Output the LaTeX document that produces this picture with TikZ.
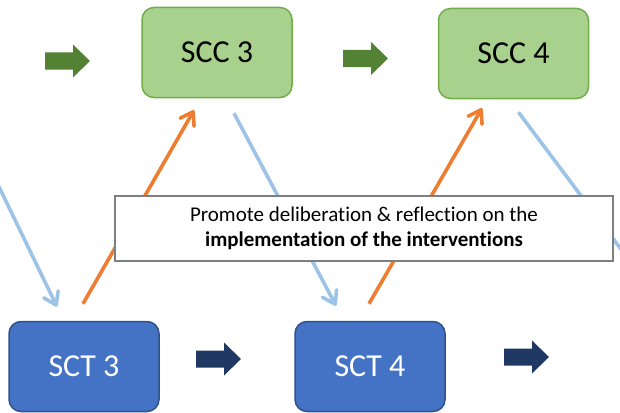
\documentclass[tikz,border=0pt]{standalone}
\usepackage{fontspec}
\setmainfont{Carlito}[Ligatures=NoCommon]
\usetikzlibrary{arrows.meta,calc}

\definecolor{sccfill}{HTML}{A9D18E}
\definecolor{sccline}{HTML}{70AD47}
\definecolor{sctfill}{HTML}{4472C4}
\definecolor{sctline}{HTML}{2F528F}
\definecolor{fwdgreen}{HTML}{548235}
\definecolor{fwdnavy}{HTML}{203864}
\definecolor{feedorange}{HTML}{ED7D31}
\definecolor{feedblue}{HTML}{9DC3E6}
\definecolor{noteline}{HTML}{7F7F7F}

\begin{document}
\begin{tikzpicture}[x=1pt,y=-1pt,
  cyclebox/.style={line width=1.5pt, rounded corners=12pt, minimum width=150pt,
    minimum height=90pt, inner sep=0pt, font=\fontsize{32}{38}\selectfont},
  sccbox/.style={cyclebox, draw=sccline, fill=sccfill, text=black},
  sctbox/.style={cyclebox, draw=sctline, fill=sctfill, text=white},
  note/.style={draw=noteline, fill=white, line width=1.5pt, minimum width=498pt,
    minimum height=65pt, inner sep=0pt, align=center, font=\fontsize{21}{25}\selectfont},
  linktip/.style={-{Straight Barb[length=12pt,width=16pt,line cap=round,line join=round]}},
  upflow/.style={draw=feedorange, line width=3.6pt, linktip},
  downflow/.style={draw=feedblue, line width=3.6pt, linktip},
  blockarrow/.pic={\fill (0,-8.5) -- (28,-8.5) -- (28,-16.5) -- (45,0) -- (28,16.5)
    -- (28,8.5) -- (0,8.5) -- cycle;}
]
\useasboundingbox (0,0) rectangle (620,412);
\clip (0,0) rectangle (620,412);

% forward steps between cycles
\pic[fwdgreen] at (45,61) {blockarrow};
\pic[fwdgreen] at (343,58.5) {blockarrow};
\pic[fwdnavy] at (196,359) {blockarrow};
\pic[fwdnavy] at (504,357) {blockarrow};

% cycle boxes
\node[sccbox] (scc3) at (217,52.5) {SCC 3};
\node[sccbox] (scc4) at (513.5,53.5) {SCC 4};
\node[sctbox] (sct3) at (84,366.5) {SCT 3};
\node[sctbox] (sct4) at (370,366.5) {SCT 4};

% feedback links
\coordinate (inleft) at (-14,160);
\coordinate (outright) at (650,288);
\draw[downflow] (inleft) -- ($(sct3.north)+(-27,-14)$);
\draw[downflow] ($(scc3.south)+(17,15)$) -- ($(sct4.north)+(-34,-15)$);
\draw[downflow] ($(scc4.south)+(5,13)$) -- (outright);
\draw[upflow] ($(sct3.north)+(-1,-17)$) -- ($(scc3.south)+(-23,12)$);
\draw[upflow] ($(sct4.north)+(-1,-17)$) -- ($(scc4.south)+(-31.5,9)$);

% note over the links
\node[note] (msg) at (364,228.5) {Promote deliberation \& reflection on the\\
  \textbf{implementation of the interventions}};
\end{tikzpicture}
\end{document}
